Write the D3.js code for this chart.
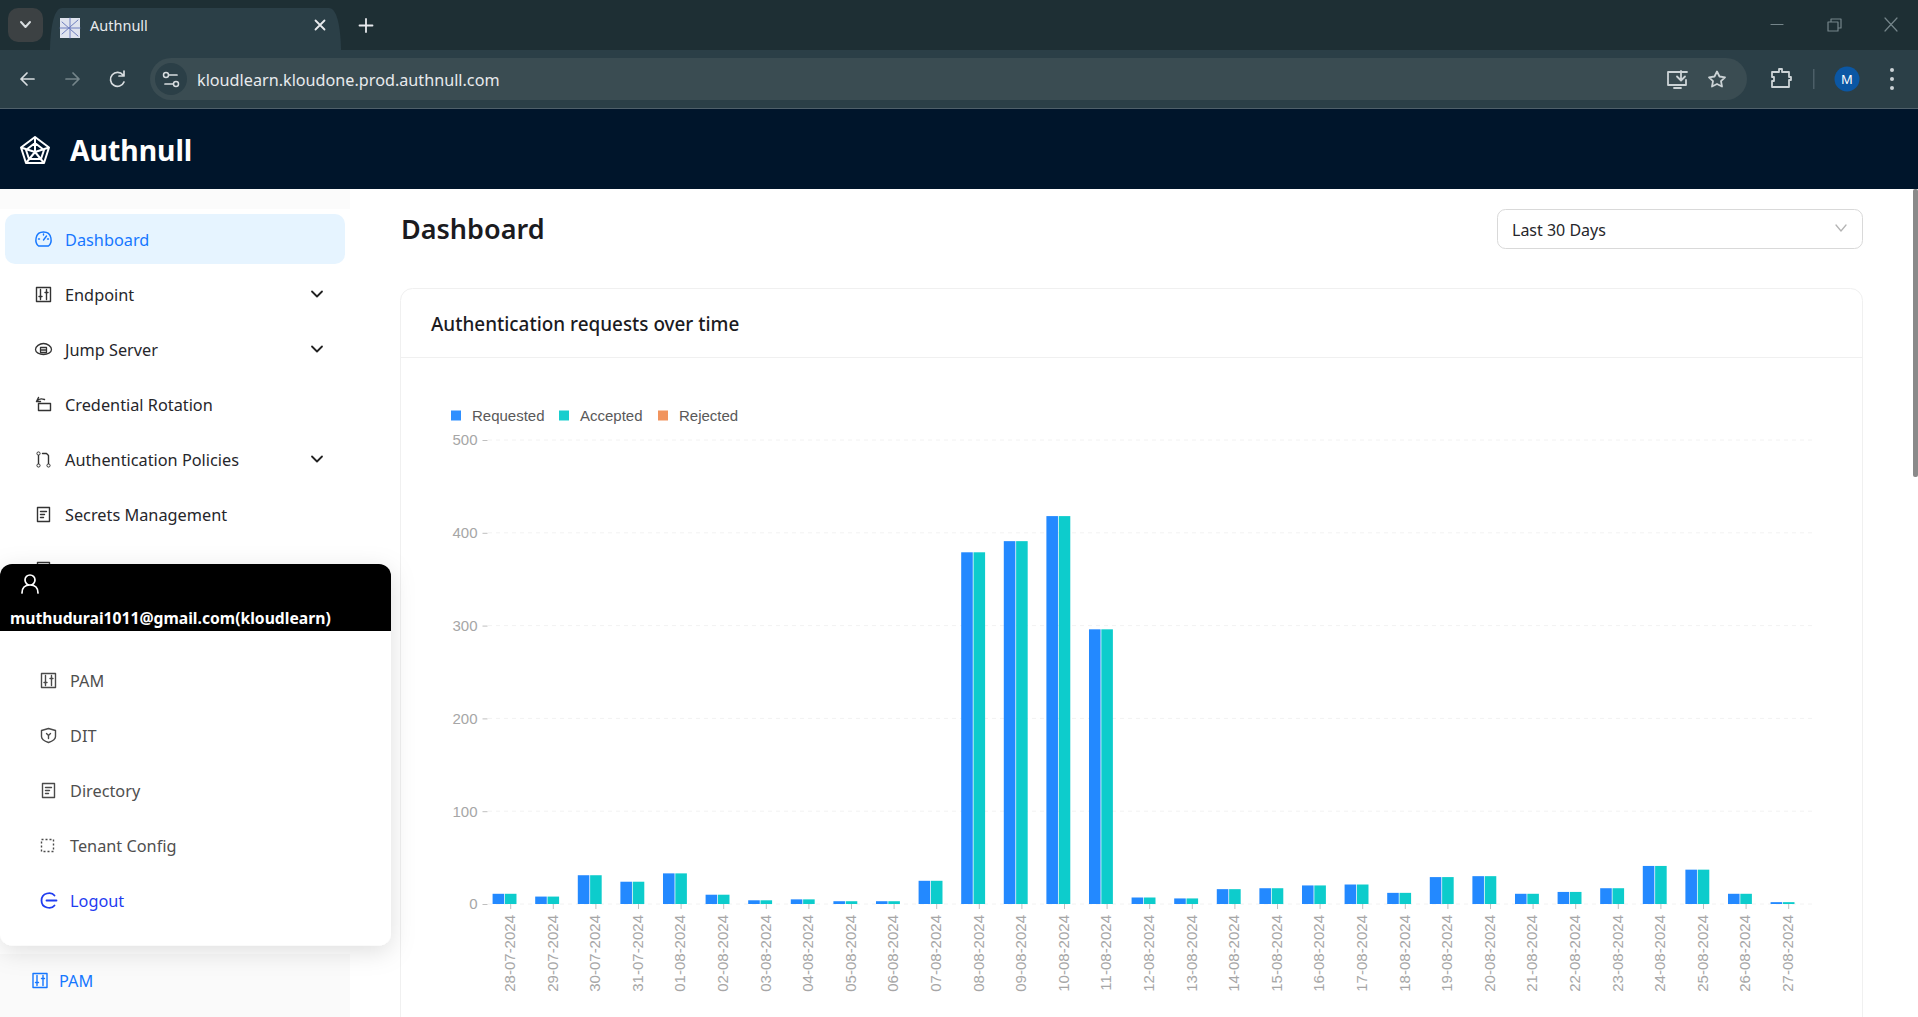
<!DOCTYPE html>
<html>
<head>
<meta charset="utf-8">
<title>Authnull</title>
<script src="https://cdn.jsdelivr.net/npm/d3@7"></script>
<style>
html, body { margin: 0; padding: 0; background: #fff; overflow: hidden; }
svg { display: block; }
text { font-family: "Noto Sans", sans-serif; }
.chart text { font-family: "Liberation Sans", Arial, sans-serif; }
</style>
</head>
<body>
<div id="page"></div>
<script>
// chart data
var dates = ["28-07-2024","29-07-2024","30-07-2024","31-07-2024","01-08-2024","02-08-2024","03-08-2024","04-08-2024",
  "05-08-2024","06-08-2024","07-08-2024","08-08-2024","09-08-2024","10-08-2024","11-08-2024","12-08-2024",
  "13-08-2024","14-08-2024","15-08-2024","16-08-2024","17-08-2024","18-08-2024","19-08-2024","20-08-2024",
  "21-08-2024","22-08-2024","23-08-2024","24-08-2024","25-08-2024","26-08-2024","27-08-2024"];
var requested = [11,8,31,24,33,10,4,5,3,3,25,379,391,418,296,7,6,16,17,20,21,12,29,30,11,13,17,41,37,11,2];
var accepted  = [11,8,31,24,33,10,4,5,3,3,25,379,391,418,296,7,6,16,17,20,21,12,29,30,11,13,17,41,37,11,2];
var rejected  = [0,0,0,0,0,0,0,0,0,0,0,0,0,0,0,0,0,0,0,0,0,0,0,0,0,0,0,0,0,0,0];
var seriesNames = ["Requested","Accepted","Rejected"];
var seriesColors = ["#1783FF","#00C9C9","#F0884D"];
var yTicks = [0,100,200,300,400,500];

// page text
var sideItems = [
  {label:"Endpoint", icon:"sliders", arrow:true},
  {label:"Jump Server", icon:"cloud", arrow:true},
  {label:"Credential Rotation", icon:"rotate"},
  {label:"Authentication Policies", icon:"branch", arrow:true},
  {label:"Secrets Management", icon:"doc"},
  {label:"Logs", icon:"doc"}
];
var popupItems = [
  {label:"PAM", icon:"sliders"},
  {label:"DIT", icon:"shield"},
  {label:"Directory", icon:"doc"},
  {label:"Tenant Config", icon:"dashed"},
  {label:"Logout", icon:"logout", color:"#1f3cf0"}
];

var svg = d3.select("#page").append("svg").attr("width",1918).attr("height",1017);

function rect(g,x,y,w,h,fill,r){
  return g.append("rect").attr("x",x).attr("y",y).attr("width",w).attr("height",h).attr("fill",fill).attr("rx",r||0);
}
function label(g,s,x,y,size,color,weight){
  return g.append("text").attr("x",x).attr("y",y).attr("font-size",size).attr("fill",color)
    .attr("font-weight",weight||400).attr("dominant-baseline","central").text(s);
}
function stroke(g,d,color,w){
  return g.append("path").attr("d",d).attr("fill","none").attr("stroke",color).attr("stroke-width",w||1.5)
    .attr("stroke-linecap","round").attr("stroke-linejoin","round");
}

// small menu icons, centred on cx,cy
function icon(g,kind,cx,cy,color){
  var i = g.append("g").attr("transform","translate("+cx+","+cy+")");
  if (kind=="sliders"){
    stroke(i,"M-7,-7H7V7H-7Z M-3,-5V5 M3,-5V5 M-4.5,2H-1.5 M1.5,-2H4.5",color,1.4);
  } else if (kind=="cloud"){
    stroke(i,"M-8,0C-8,-3 -4,-6 0,-6C4,-6 8,-3 8,0C8,3 4,5 0,5C-4,5 -8,3 -8,0Z M-3,-2H3V3H-3Z M-3,0.5H3",color,1.3);
  } else if (kind=="rotate"){
    stroke(i,"M-5,-1H7V6H-5Z M-7,-3C-5,-6 -2,-6 1,-5 M-5,-7L-7,-3L-3,-3",color,1.4);
  } else if (kind=="branch"){
    stroke(i,"M-5,-4V4 M5,-4V4 M-1,-6L3,-6L5,-4",color,1.4);
    i.append("circle").attr("cx",-5).attr("cy",-6).attr("r",1.6).attr("fill","none").attr("stroke",color);
    i.append("circle").attr("cx",-5).attr("cy",6).attr("r",1.6).attr("fill","none").attr("stroke",color);
    i.append("circle").attr("cx",5).attr("cy",6).attr("r",1.6).attr("fill","none").attr("stroke",color);
  } else if (kind=="doc"){
    stroke(i,"M-6,-7H6V7H-6Z M-3,-3H3 M-3,0H1 M-3,3H0",color,1.4);
  } else if (kind=="shield"){
    stroke(i,"M-7,-5L0,-7L7,-5V1C7,4 3,6 0,7C-3,6 -7,4 -7,1Z M-2,-2L0,0L2,-2 M0,0V3",color,1.4);
  } else if (kind=="dashed"){
    i.append("path").attr("d","M-7,-6H5V6H-7Z").attr("fill","none").attr("stroke",color).attr("stroke-width",1.4).attr("stroke-dasharray","2,2");
  } else if (kind=="logout"){
    stroke(i,"M6,-5C3,-9 -7,-8 -7,0C-7,8 3,9 6,5 M-2,0H8",color,1.8);
  } else if (kind=="gauge"){
    stroke(i,"M-5,7C-9,4 -9,-7 0,-7C9,-7 9,4 5,7Z M0,1L3,-3 M-5,0H-4 M0,-5V-4 M5,0H4",color,1.4);
  }
}

// browser chrome
var chrome = svg.append("g");
rect(chrome,0,0,1918,50,"#1e2f34");
rect(chrome,0,50,1918,59,"#2b3f47");
rect(chrome,0,108,1918,1,"#50606a");
rect(chrome,8,8,35,34,"#3c4143",10);
stroke(chrome,"M21,22L25.500,27L30,22","#d8dde0",2);
chrome.append("path").attr("d","M50,50C50,50 50,8 62,8H329C341,8 341,50 341,50Z").attr("fill","#2b3f47");
rect(chrome,60,18,20,20,"#dfe3ee");
stroke(chrome,"M62,22L78,36 M78,20L62,34 M70,18V38 M60,28H80","#6f7fbf",1);
label(chrome,"Authnull",90,25,14.5,"#e8eaed");
stroke(chrome,"M315.500,20.500L324.500,29.500 M324.500,20.500L315.500,29.500","#e8eaed",1.8);
stroke(chrome,"M366,19V32 M359.500,25.500H372.500","#e8eaed",1.8);
window_buttons();
function window_buttons(){
  stroke(chrome,"M1771,24.500H1783","#75858a",1.2);
  stroke(chrome,"M1828,22H1838V31H1828Z M1831,22V19H1841V28H1838","#75858a",1.2);
  stroke(chrome,"M1885,18L1897,31 M1897,18L1885,31","#75858a",1.2);
}
stroke(chrome,"M34,79H21 M27,73L21,79L27,85","#d8dde0",1.7);
stroke(chrome,"M66,79H79 M73,73L79,79L73,85","#75858a",1.7);
stroke(chrome,"M123,75A7,7 0 1 0 124,82 M124,71V76H119","#d8dde0",1.7);
rect(chrome,150,58,1597,42,"#3a4c52",21);
chrome.append("circle").attr("cx",171).attr("cy",79).attr("r",16).attr("fill","#2b3f47");
stroke(chrome,"M165,75H177 M165,84H177","#d8dde0",1.7);
chrome.append("circle").attr("cx",166).attr("cy",75).attr("r",2.5).attr("fill","#2b3f47").attr("stroke","#d8dde0").attr("stroke-width",1.5);
chrome.append("circle").attr("cx",176).attr("cy",84).attr("r",2.5).attr("fill","#2b3f47").attr("stroke","#d8dde0").attr("stroke-width",1.5);
label(chrome,"kloudlearn.kloudone.prod.authnull.com",197,79.500,16.2,"#e8eaed");
stroke(chrome,"M1687,72H1668V85H1686V80 M1674,88H1681 M1681,71V80 M1677,76.500L1681,80.500L1685,76.500","#ccd3d6",1.8);
chrome.append("path").attr("d","M1717,71.500L1719.500,76.500L1725,77.300L1721,81.200L1722,86.500L1717,84L1712,86.500L1713,81.200L1709,77.300L1714.500,76.500Z")
  .attr("fill","none").attr("stroke","#ccd3d6").attr("stroke-width",1.8).attr("stroke-linejoin","round");
stroke(chrome,"M1772,72H1779V69H1782V72H1789V77H1791V80H1789V87H1772V81H1774V77H1772Z","#ccd3d6",1.8);
rect(chrome,1813,69,1.5,20,"#4c5f68");
chrome.append("circle").attr("cx",1847).attr("cy",79).attr("r",12.500).attr("fill","#0b57a4");
label(chrome,"M",1847,79,13,"#fff").attr("text-anchor","middle");
[70,79,88].forEach(function(y){ chrome.append("circle").attr("cx",1892).attr("cy",y).attr("r",2).attr("fill","#ccd3d6"); });

// app header
var header = svg.append("g");
rect(header,0,109,1918,80,"#00152b");
stroke(header,"M35,137L49,147.500L44,163H26L21,147.500Z M35,143L44,150L41,159H29L26,150Z M35,137V152 M21,147.500L35,152L49,147.500 M26,163L35,152L44,163","#fff",2);
label(header,"Authnull",70,150,28.3,"#fff",700);

// sidebar
var side = svg.append("g");
rect(side,0,189,350,828,"#fff");
rect(side,0,189,350,20,"#fbfbfb");
rect(side,5,214,340,50,"#e6f4ff",10);
icon(side,"gauge",43.500,239,"#1677ff");
label(side,"Dashboard",65,239.500,16.300,"#1677ff");
sideItems.forEach(function(item,i){
  var y = 294.500+i*55;
  icon(side,item.icon,43.500,y,"#333");
  label(side,item.label,65,y,16.300,"#26262b");
  if (item.arrow) stroke(side,"M312,"+(y-3)+"L317,"+(y+2)+"L322,"+(y-3),"#222",1.8);
});

// main area
var main = svg.append("g");
label(main,"Dashboard",401,228,27,"#1b1b1f",600);
rect(main,1497.500,209.500,365,39,"#fff",8).attr("stroke","#d9d9d9");
label(main,"Last 30 Days",1512,229.500,16,"#26262b");
stroke(main,"M1836,225L1841,231L1846,225","#b4b4b4",1.3);
rect(main,400.500,288.500,1462,760,"#fff",12).attr("stroke","#f0f0f0");
rect(main,401,357,1461,1,"#f0f0f0");
label(main,"Authentication requests over time",431,323.500,18.9,"#1b1b1f",500);
rect(main,1913,189,5,288,"#8a8a8a",2);

// the chart itself
var chart = svg.append("g").attr("class","chart");

var x0 = d3.scaleBand().domain(dates).range([489.4,1810]).paddingInner(0.15).paddingOuter(0.075);
var x1 = d3.scaleBand().domain(seriesNames).range([0,x0.bandwidth()]).paddingInner(0.06);
var y = d3.scaleLinear().domain([0,500]).range([904,440]);

// gridlines
chart.append("g").selectAll("line").data(yTicks).join("line")
  .attr("x1",488).attr("x2",1813).attr("y1",y).attr("y2",y)
  .attr("stroke","#f2f2f2").attr("stroke-dasharray","4,4");

// bars, one group per series
var seriesValues = [requested,accepted,rejected];
seriesNames.forEach(function(name,s){
  chart.append("g").selectAll("rect").data(dates).join("rect")
    .attr("x",function(d){ return x0(d)+x1(name); })
    .attr("width",x1.bandwidth())
    .attr("y",function(d,i){ return y(seriesValues[s][i]); })
    .attr("height",function(d,i){ return y(0)-y(seriesValues[s][i]); })
    .attr("fill",seriesColors[s]).attr("fill-opacity",0.95);
});

// axes
var yAxis = chart.append("g").attr("transform","translate(487.5,0)")
  .call(d3.axisLeft(y).tickValues(yTicks).tickSize(5).tickPadding(5));
var xAxis = chart.append("g").attr("transform","translate(0,904)")
  .call(d3.axisBottom(x0).tickSize(5).tickSizeOuter(0));
[yAxis,xAxis].forEach(function(a){
  a.select(".domain").remove();
  a.selectAll("line").attr("stroke","#bfbfbf");
  a.selectAll("text").attr("fill","#a6a6a6").attr("font-size",15).attr("font-family","Liberation Sans, Arial, sans-serif");
});
xAxis.selectAll("text").attr("transform","rotate(-90)")
  .attr("x",-11).attr("y",-1).attr("dy","0.35em").attr("text-anchor","end");

// legend
var legendX = [451,559,658];
seriesNames.forEach(function(name,s){
  rect(chart,legendX[s],410.500,10,10,seriesColors[s]).attr("fill-opacity",0.9);
  chart.append("text").attr("x",legendX[s]+21).attr("y",415.500).attr("dominant-baseline","central")
    .attr("font-size",15).attr("fill","#595959").text(name);
});

// user popup over the sidebar
var defs = svg.append("defs");
var f = defs.append("filter").attr("id","shadow").attr("x","-20%").attr("y","-20%").attr("width","140%").attr("height","140%");
f.append("feDropShadow").attr("dx",0).attr("dy",6).attr("stdDeviation",12).attr("flood-color","#000").attr("flood-opacity",0.13);

rect(svg,0,954,350,63,"#fafafa");
icon(svg,"sliders",40,980.500,"#1677ff");
label(svg,"PAM",59,980.500,16.300,"#1677ff");

var pop = svg.append("g");
pop.append("path").attr("d","M16,943L25,953L34,943Z").attr("fill","#fff");
rect(pop,0,564,391,381.500,"#fff",12).attr("filter","url(#shadow)");
pop.append("path").attr("d","M0,631V576A12,12 0 0 1 12,564H379A12,12 0 0 1 391,576V631Z").attr("fill","#000");
stroke(pop,"M22,593C22,587 26,585 30,585C34,585 38,587 38,593 M30,585A5,5 0 1 0 30,575A5,5 0 1 0 30,585","#fff",1.7);
label(pop,"muthudurai1011@gmail.com(kloudlearn)",10,618,15.700,"#fff",700);
popupItems.forEach(function(item,i){
  var y = 680.500+i*55;
  var c = item.color || "#4a4a4a";
  icon(pop,item.icon,48.500,y,c);
  label(pop,item.label,70,y,16.300,item.color||"#4f4f4f");
});
</script>
</body>
</html>
